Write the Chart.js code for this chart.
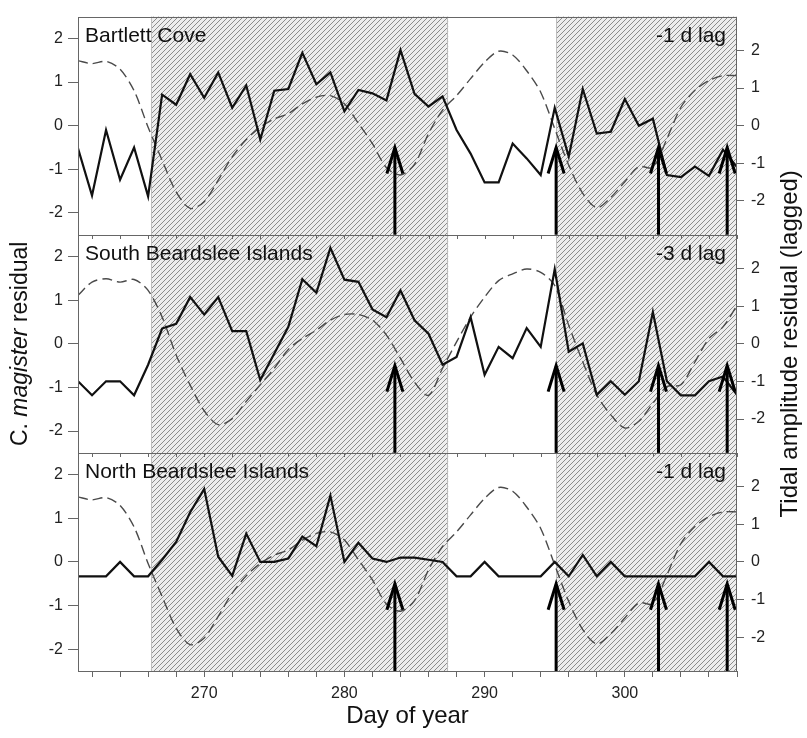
<!DOCTYPE html>
<html>
<head>
<meta charset="utf-8">
<script src="https://cdn.jsdelivr.net/npm/chart.js@4.4.1/dist/chart.umd.min.js"></script>
<style>
  html, body { margin: 0; padding: 0; background: #fff; }
  #grafica { display: block; }
</style>
</head>
<body>
<canvas id="grafica" width="807" height="738"></canvas>
<script>
// Datos (dia del año 261-308)
const dias = [261, 262, 263, 264, 265, 266, 267, 268, 269, 270,
              271, 272, 273, 274, 275, 276, 277, 278, 279, 280,
              281, 282, 283, 284, 285, 286, 287, 288, 289, 290,
              291, 292, 293, 294, 295, 296, 297, 298, 299, 300,
              301, 302, 303, 304, 305, 306, 307, 308];

// residuales de C. magister (eje izquierdo)
const bartlett = [-0.52, -1.6, -0.1, -1.24, -0.5, -1.62, 0.71, 0.48, 1.18, 0.64,
                  1.22, 0.41, 0.92, -0.32, 0.8, 0.84, 1.67, 0.95, 1.22, 0.33,
                  0.82, 0.74, 0.58, 1.73, 0.73, 0.44, 0.67, -0.1, -0.64, -1.3,
                  -1.3, -0.41, -0.75, -1.13, 0.41, -0.71, 0.84, -0.18, -0.14, 0.61,
                  0.0, 0.16, -1.13, -1.18, -0.94, -1.15, -0.55, -0.95];
const surBeardslee = [-0.86, -1.18, -0.86, -0.86, -1.18, -0.48, 0.35, 0.46, 1.07, 0.67,
                      1.07, 0.29, 0.29, -0.83, -0.22, 0.39, 1.48, 1.17, 2.2, 1.47,
                      1.42, 0.79, 0.61, 1.22, 0.54, 0.23, -0.48, -0.3, 0.61, -0.71,
                      -0.07, -0.33, 0.36, -0.07, 1.71, -0.18, 0.01, -1.17, -0.86, -1.17,
                      -0.86, 0.73, -0.86, -1.18, -1.18, -0.86, -0.75, -1.17];
const norteBeardslee = [-0.33, -0.33, -0.33, 0.0, -0.33, -0.33, 0.05, 0.46, 1.14, 1.67,
                        0.12, -0.32, 0.65, 0.0, 0.0, 0.08, 0.58, 0.36, 1.52, 0.0,
                        0.44, 0.08, 0.0, 0.1, 0.1, 0.05, 0.0, -0.33, -0.33, 0.0,
                        -0.33, -0.33, -0.33, -0.33, 0.0, -0.33, 0.16, -0.33, 0.0, -0.33,
                        -0.33, -0.33, -0.33, -0.33, -0.33, 0.0, -0.33, -0.33];

// residual de amplitud de marea (eje derecho)
const mareaLag1 = [1.73, 1.65, 1.71, 1.5, 0.93, -0.04, -0.92, -1.76, -2.2, -2.02,
                   -1.45, -0.83, -0.37, -0.04, 0.18, 0.32, 0.58, 0.76, 0.8, 0.58,
                   0.06, -0.48, -1.12, -1.31, -1.03, -0.21, 0.41, 0.8, 1.25, 1.69,
                   1.98, 1.88, 1.46, 0.89, -0.08, -1.05, -1.8, -2.18, -1.91, -1.49,
                   -1.09, -1.11, -0.35, 0.49, 0.94, 1.2, 1.33, 1.33];
const mareaLag3 = [1.29, 1.64, 1.73, 1.64, 1.71, 1.42, 0.71, -0.3, -1.1, -1.78,
                   -2.15, -1.99, -1.53, -1.09, -0.65, -0.15, 0.14, 0.36, 0.63, 0.78,
                   0.78, 0.63, 0.23, -0.39, -1.02, -1.37, -0.65, 0.05, 0.71, 1.24,
                   1.68, 1.86, 1.99, 1.9, 1.55, 0.49, -0.48, -1.36, -1.89, -2.24,
                   -2.06, -1.58, -1.14, -1.09, -0.48, 0.14, 0.45, 1.02];

const nombresPanel = ["Bartlett Cove", "South Beardslee Islands", "North Beardslee Islands"];
const retrasos = ["-1 d lag", "-3 d lag", "-1 d lag"];
const zonasSombra = [[266.2, 287.4], [295.1, 308]];
const diasFlecha = [283.6, 295.1, 302.4, 307.3];
const puntaFlecha = -0.5;
const ticksX = [262, 264, 266, 268, 270, 272, 274, 276, 278, 280, 282, 284, 286, 288,
                290, 292, 294, 296, 298, 300, 302, 304, 306, 308];
const etiquetasX = [270, 280, 290, 300];
const ticksY = [-2, -1, 0, 1, 2];

const fuente = "'Liberation Sans', Arial, sans-serif";

function puntos(valores) {
    return dias.map((d, i) => ({ x: d, y: valores[i] }));
}

function serieSolida(valores, eje) {
    return {
        data: puntos(valores),
        yAxisID: eje,
        borderColor: "#111",
        borderWidth: 2.2,
        pointRadius: 0,
        tension: 0,
        order: 1
    };
}

function serieMarea(valores, eje) {
    return {
        data: puntos(valores),
        yAxisID: eje,
        borderColor: "#4a4a4a",
        borderWidth: 1.4,
        borderDash: [10, 5],
        pointRadius: 0,
        tension: 0.3,
        order: 2
    };
}

function ejeIzq() {
    return {
        type: "linear",
        position: "left",
        stack: "izq",
        stackWeight: 1,
        min: -2.5,
        max: 2.5,
        afterBuildTicks: (s) => { s.ticks = ticksY.map(v => ({ value: v })); },
        afterFit: (s) => { s.width = 78; },
        grid: { drawOnChartArea: false, drawTicks: true, tickLength: 10, color: "#666" },
        border: { display: false },
        ticks: { font: { family: fuente, size: 16 }, color: "#222", padding: 5 }
    };
}

function ejeDer() {
    return {
        type: "linear",
        position: "right",
        stack: "der",
        stackWeight: 1,
        min: -2.9,
        max: 2.9,
        afterBuildTicks: (s) => { s.ticks = ticksY.map(v => ({ value: v })); },
        afterFit: (s) => { s.width = 70; },
        grid: { drawOnChartArea: false, drawTicks: true, tickLength: 7, color: "#666" },
        border: { display: false },
        ticks: { font: { family: fuente, size: 16 }, color: "#222", padding: 7 }
    };
}

function patronRayado(ctx) {
    const c = document.createElement("canvas");
    c.width = 5; c.height = 5;
    const g = c.getContext("2d");
    g.fillStyle = "#ededed";
    g.fillRect(0, 0, 5, 5);
    g.strokeStyle = "#8c8c8c";
    g.lineWidth = 1;
    g.beginPath();
    g.moveTo(-1, 6); g.lineTo(6, -1);
    g.moveTo(-1, 1); g.lineTo(1, -1);
    g.moveTo(4, 6); g.lineTo(6, 4);
    g.stroke();
    return ctx.createPattern(c, "repeat");
}

const ejesIzq = ["yL1", "yL2", "yL3"];

const pluginPaneles = {
    id: "paneles",
    beforeDatasetsDraw(chart) {
        const { ctx, chartArea } = chart;
        const x = chart.scales.x;
        ctx.save();
        ctx.fillStyle = patronRayado(ctx);
        ctx.strokeStyle = "#bdbdbd";
        ctx.lineWidth = 1;
        zonasSombra.forEach(([a, b]) => {
            const x0 = x.getPixelForValue(a);
            const x1 = Math.min(x.getPixelForValue(b), chartArea.right);
            ctx.fillRect(x0, chartArea.top, x1 - x0, chartArea.bottom - chartArea.top);
            ctx.beginPath();
            ctx.moveTo(Math.round(x0) + 0.5, chartArea.top);
            ctx.lineTo(Math.round(x0) + 0.5, chartArea.bottom);
            ctx.moveTo(Math.round(x1) - 0.5, chartArea.top);
            ctx.lineTo(Math.round(x1) - 0.5, chartArea.bottom);
            ctx.stroke();
        });
        ctx.restore();
    },
    afterDatasetsDraw(chart) {
        const { ctx } = chart;
        const x = chart.scales.x;
        ctx.save();
        ejesIzq.forEach((id, i) => {
            const y = chart.scales[id];
            // flechas
            ctx.strokeStyle = "#000";
            ctx.lineWidth = 3;
            ctx.lineCap = "butt";
            diasFlecha.forEach((d) => {
                const px = x.getPixelForValue(d);
                const tip = y.getPixelForValue(puntaFlecha);
                ctx.beginPath();
                ctx.moveTo(px, y.bottom);
                ctx.lineTo(px, tip + 1);
                ctx.stroke();
                ctx.beginPath();
                ctx.moveTo(px - 8, tip + 26);
                ctx.lineTo(px, tip);
                ctx.lineTo(px + 8, tip + 26);
                ctx.stroke();
            });
            // marco del panel
            ctx.strokeStyle = "#666";
            ctx.lineWidth = 1;
            ctx.strokeRect(x.left + 0.5, Math.round(y.top) + 0.5, x.right - x.left - 1, Math.round(y.bottom - y.top));
            if (i > 0) {
                ctx.beginPath();
                ticksX.forEach((v) => {
                    const px = Math.round(x.getPixelForValue(v)) + 0.5;
                    ctx.moveTo(px, Math.round(y.top));
                    ctx.lineTo(px, Math.round(y.top) + 4);
                });
                ctx.stroke();
            }
            // textos del panel
            ctx.fillStyle = "#111";
            ctx.font = "21px " + fuente;
            ctx.textBaseline = "alphabetic";
            ctx.textAlign = "left";
            ctx.fillText(nombresPanel[i], x.left + 7, y.top + 25);
            ctx.textAlign = "right";
            ctx.fillText(retrasos[i], x.right - 11, y.top + 25);
        });
        ctx.restore();
    },
    afterDraw(chart) {
        const { ctx, chartArea } = chart;
        const cy = (chartArea.top + chartArea.bottom) / 2;
        ctx.save();
        ctx.fillStyle = "#111";
        ctx.textBaseline = "middle";
        // titulo eje izquierdo con cursiva
        const partes = [["C. ", "normal"], ["magister", "italic"], [" residual", "normal"]];
        ctx.translate(21, cy);
        ctx.rotate(-Math.PI / 2);
        let total = 0;
        partes.forEach(([t, st]) => { ctx.font = st + " 23px " + fuente; total += ctx.measureText(t).width; });
        let pos = -total / 2;
        ctx.textAlign = "left";
        partes.forEach(([t, st]) => {
            ctx.font = st + " 23px " + fuente;
            ctx.fillText(t, pos, 0);
            pos += ctx.measureText(t).width;
        });
        ctx.restore();
        // titulo eje derecho
        ctx.save();
        ctx.fillStyle = "#111";
        ctx.textBaseline = "middle";
        ctx.textAlign = "center";
        ctx.font = "24px " + fuente;
        ctx.translate(790, cy);
        ctx.rotate(-Math.PI / 2);
        ctx.fillText("Tidal amplitude residual (lagged)", 0, 0);
        ctx.restore();
        // titulo eje x
        ctx.save();
        ctx.fillStyle = "#111";
        ctx.textBaseline = "middle";
        ctx.textAlign = "center";
        ctx.font = "24px " + fuente;
        ctx.fillText("Day of year", (chartArea.left + chartArea.right) / 2, 716);
        ctx.restore();
    }
};

const ctxGrafica = document.getElementById("grafica").getContext("2d");

let opciones = {
    type: "line",
    data: {
        datasets: [
            serieSolida(bartlett, "yL1"),
            serieMarea(mareaLag1, "yR1"),
            serieSolida(surBeardslee, "yL2"),
            serieMarea(mareaLag3, "yR2"),
            serieSolida(norteBeardslee, "yL3"),
            serieMarea(mareaLag1, "yR3")
        ]
    },
    options: {
        responsive: false,
        animation: false,
        devicePixelRatio: 1,
        layout: { padding: { top: 12, left: 0, right: 0, bottom: 0 } },
        plugins: { legend: { display: false }, tooltip: { enabled: false } },
        scales: {
            x: {
                type: "linear",
                min: 261,
                max: 308,
                afterBuildTicks: (s) => { s.ticks = ticksX.map(v => ({ value: v })); },
                afterFit: (s) => { s.height = 67; },
                grid: { drawOnChartArea: false, drawTicks: true, tickLength: 6, color: "#666" },
                border: { display: false },
                ticks: {
                    autoSkip: false,
                    maxRotation: 0,
                    padding: 7,
                    font: { family: fuente, size: 16 },
                    color: "#222",
                    callback: (v) => etiquetasX.includes(v) ? String(v) : ""
                }
            },
            // los ejes apilados se colocan de abajo hacia arriba
            yL3: ejeIzq(),
            yL2: ejeIzq(),
            yL1: ejeIzq(),
            yR3: ejeDer(),
            yR2: ejeDer(),
            yR1: ejeDer()
        }
    },
    plugins: [pluginPaneles]
};

let grafica = new Chart(ctxGrafica, opciones);
</script>
</body>
</html>
